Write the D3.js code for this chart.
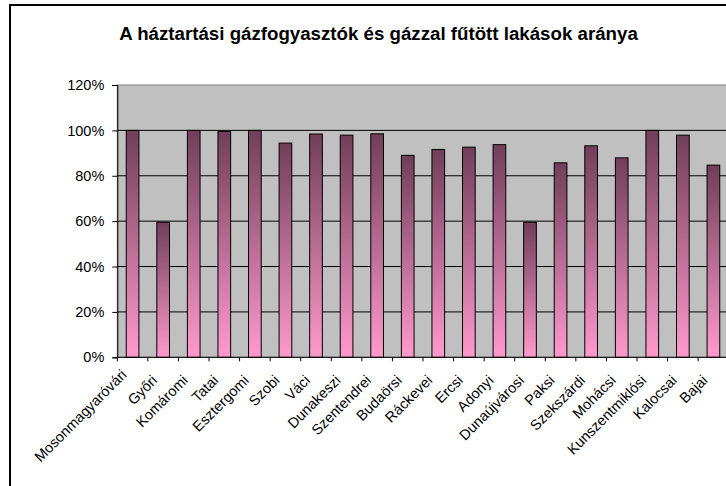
<!DOCTYPE html>
<html>
<head>
<meta charset="utf-8">
<script src="https://cdn.jsdelivr.net/npm/d3@7"></script>
<style>
  html, body { margin: 0; padding: 0; background: #fff; }
  svg { display: block; }
  text { font-family: "Liberation Sans", Arial, sans-serif; fill: #000; }
</style>
</head>
<body>
<svg id="chart" width="726" height="486"></svg>
<script>
// Háztartási gázfogyasztók és gázzal fűtött lakások aránya kistérségenként
const categories = [
  "Mosonmagyaróvári", "Győri", "Komáromi", "Tatai", "Esztergomi",
  "Szobi", "Váci", "Dunakeszi", "Szentendrei", "Budaörsi",
  "Ráckevei", "Ercsi", "Adonyi", "Dunaújvárosi", "Paksi",
  "Szekszárdi", "Mohácsi", "Kunszentmiklósi", "Kalocsai", "Bajai"
];
const values = [
  1.000, 0.595, 1.000, 0.995, 1.000,
  0.944, 0.984, 0.979, 0.985, 0.890,
  0.916, 0.926, 0.937, 0.595, 0.857,
  0.932, 0.879, 1.000, 0.979, 0.847
];
const yTicks = [0, 0.2, 0.4, 0.6, 0.8, 1.0, 1.2];
const title = "A háztartási gázfogyasztók és gázzal fűtött lakások aránya";

const svg = d3.select("#chart");

// outer chart frame (runs past the right and bottom edges of the view)
svg.append("rect")
  .attr("x", 10).attr("y", 5)
  .attr("width", 760).attr("height", 500)
  .attr("fill", "#fff")
  .attr("stroke", "#000")
  .attr("stroke-width", 2);

svg.append("text")
  .attr("x", 378.5).attr("y", 40)
  .attr("text-anchor", "middle")
  .style("font-size", "18.7px")
  .style("font-weight", "bold")
  .text(title);

const plot = { left: 117.3, top: 85, right: 728.7, bottom: 357.3 };

const x = d3.scaleBand()
  .domain(categories)
  .range([plot.left, plot.right])
  .paddingInner(0.585)
  .paddingOuter(0.2925);

const y = d3.scaleLinear()
  .domain([0, 1.2])
  .range([plot.bottom, plot.top]);

// plot area
svg.append("rect")
  .attr("x", plot.left).attr("y", plot.top)
  .attr("width", plot.right - plot.left)
  .attr("height", plot.bottom - plot.top)
  .attr("fill", "#c0c0c0")
  .attr("stroke", "#808080")
  .attr("stroke-width", 1);

// horizontal gridlines
svg.append("g")
  .selectAll("line")
  .data(yTicks.filter(t => t > 0 && t < 1.2))
  .join("line")
  .attr("x1", plot.left).attr("x2", plot.right)
  .attr("y1", d => y(d)).attr("y2", d => y(d))
  .attr("stroke", "#000")
  .attr("stroke-width", 1);

// bar gradient: dark mauve at the top fading into pink at the base
const defs = svg.append("defs");
const grad = defs.append("linearGradient")
  .attr("id", "barFill")
  .attr("x1", 0).attr("y1", 0).attr("x2", 0).attr("y2", 1);
grad.append("stop").attr("offset", "0%").attr("stop-color", "#713f59");
grad.append("stop").attr("offset", "100%").attr("stop-color", "#ff99cc");

svg.append("g")
  .selectAll("rect")
  .data(categories.map((c, i) => ({ c, v: values[i] })))
  .join("rect")
  .attr("x", d => x(d.c))
  .attr("width", x.bandwidth())
  .attr("y", d => y(d.v))
  .attr("height", d => y(0) - y(d.v))
  .attr("fill", "url(#barFill)")
  .attr("stroke", "#000")
  .attr("stroke-width", 1);

// y axis
const yAxis = svg.append("g")
  .attr("transform", `translate(${plot.left},0)`)
  .call(d3.axisLeft(y).tickValues(yTicks).tickFormat(d3.format(".0%")).tickSize(5).tickPadding(8));
yAxis.select(".domain").attr("stroke", "#000");
yAxis.selectAll(".tick line").attr("stroke", "#000");
yAxis.selectAll(".tick text")
  .style("font-size", "14.5px")
  .style("font-family", "Liberation Sans, Arial, sans-serif");

// x axis: ticks on category boundaries
const step = x.step();
const boundaries = d3.range(categories.length + 1).map(i => plot.left + i * step);
const xAxisG = svg.append("g");
xAxisG.append("line")
  .attr("x1", plot.left).attr("x2", plot.right)
  .attr("y1", plot.bottom).attr("y2", plot.bottom)
  .attr("stroke", "#000");
xAxisG.selectAll("line.tk")
  .data(boundaries)
  .join("line")
  .attr("class", "tk")
  .attr("x1", d => d).attr("x2", d => d)
  .attr("y1", plot.bottom).attr("y2", plot.bottom + 4)
  .attr("stroke", "#000");

// slanted category labels; a label too long for the label band is lifted
const labelSize = 14.5;
const labelBottomLimit = 465;
const labels = xAxisG.selectAll("text")
  .data(categories)
  .join("text")
  .attr("text-anchor", "end")
  .style("font-size", labelSize + "px")
  .text(d => d);

labels.attr("transform", function (d) {
  const len = this.getComputedTextLength();
  const ex = x(d) + x.bandwidth() / 2 - 5;
  let ey = plot.bottom + 24;
  const lowest = ey + len * Math.SQRT1_2 + labelSize * 0.21 * Math.SQRT1_2;
  if (lowest > labelBottomLimit) ey -= lowest - labelBottomLimit;
  return `translate(${ex},${ey}) rotate(-45)`;
});
</script>
</body>
</html>
